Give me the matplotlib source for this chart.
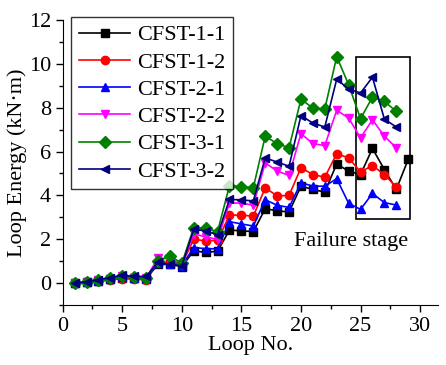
import matplotlib.pyplot as plt
from matplotlib.patches import Rectangle
from matplotlib.ticker import MultipleLocator

plt.rcParams['font.family'] = ['Liberation Serif', 'DejaVu Serif']

loops = list(range(1, 30))

cfst_1_1 = [0.0, 0.05, 0.1, 0.18, 0.25, 0.22, 0.2, 0.85, 0.85, 0.75,
            1.47, 1.4, 1.45, 2.42, 2.38, 2.35, 3.39, 3.3, 3.24, 4.42,
            4.27, 4.15, 5.44, 5.1, 4.95, 6.14, 5.18, 4.27, 5.64]
cfst_1_2 = [0.0, 0.03, 0.08, 0.15, 0.2, 0.18, 0.15, 0.95, 0.95, 0.85,
            2.0, 1.92, 1.95, 3.1, 3.1, 3.05, 4.35, 3.97, 4.0, 5.26,
            4.95, 4.83, 5.9, 5.71, 5.07, 5.36, 4.95, 4.38]
cfst_2_1 = [0.0, 0.05, 0.1, 0.2, 0.28, 0.25, 0.25, 0.9, 0.85, 0.8,
            1.62, 1.57, 1.56, 2.8, 2.7, 2.6, 3.8, 3.55, 3.45, 4.58,
            4.42, 4.42, 4.76, 3.64, 3.36, 4.09, 3.67, 3.56]
cfst_2_2 = [0.02, 0.05, 0.12, 0.2, 0.3, 0.25, 0.22, 1.15, 1.1, 0.85,
            2.25, 2.1, 2.0, 3.65, 3.65, 3.55, 5.48, 5.11, 4.91, 6.82,
            6.36, 6.27, 7.88, 7.53, 6.62, 7.45, 6.7, 6.17]
cfst_3_1 = [0.02, 0.05, 0.12, 0.22, 0.3, 0.28, 0.25, 1.0, 1.24, 0.9,
            2.53, 2.5, 2.35, 4.45, 4.4, 4.35, 6.7, 6.36, 6.17, 8.39,
            7.98, 7.94, 10.33, 9.05, 7.5, 8.48, 8.29, 7.83]
cfst_3_2 = [0.0, 0.05, 0.15, 0.25, 0.35, 0.3, 0.3, 0.95, 0.85, 0.79,
            2.45, 2.38, 2.2, 3.82, 3.79, 3.75, 5.71, 5.52, 5.33, 7.64,
            7.3, 7.12, 9.3, 8.85, 8.67, 9.39, 7.48, 7.12]

fig = plt.figure(figsize=(4.46, 3.65), dpi=100)
ax = fig.add_axes([0.1406, 0.1644, 0.8414, 0.7808])

series = [
    (cfst_1_1, 'CFST-1-1', 'black', 's'),
    (cfst_1_2, 'CFST-1-2', 'red', 'o'),
    (cfst_2_1, 'CFST-2-1', 'blue', '^'),
    (cfst_2_2, 'CFST-2-2', 'magenta', 'v'),
    (cfst_3_1, 'CFST-3-1', 'green', 'D'),
    (cfst_3_2, 'CFST-3-2', 'navy', '<'),
]
for vals, name, col, mk in series:
    ax.plot(loops[:len(vals)], vals, color=col, marker=mk, markersize=6,
            lw=1.2, label=name)

ax.set_xlim(0, 31.5)
ax.set_ylim(-1, 12)
ax.xaxis.set_major_locator(MultipleLocator(5))
ax.xaxis.set_minor_locator(MultipleLocator(2.5))
ax.yaxis.set_major_locator(MultipleLocator(2))
ax.yaxis.set_minor_locator(MultipleLocator(1))
ax.tick_params(which='major', direction='out', length=5, width=1, labelsize=16)
ax.tick_params(which='minor', direction='out', length=3, width=1)
ax.spines['top'].set_visible(False)
ax.spines['right'].set_visible(False)

ax.set_xlabel('Loop No.', fontsize=16, labelpad=0)
ax.set_ylabel('Loop Energy (kN·m)', fontsize=16, labelpad=1)

leg = ax.legend(loc='upper left', bbox_to_anchor=(0.023, 1.01), fontsize=16,
                frameon=True, fancybox=False, edgecolor='black',
                handlelength=2.3, handletextpad=0.3, labelspacing=0.3,
                borderpad=0.35, borderaxespad=0)
leg.get_frame().set_linewidth(1)

# failure stage box
ax.add_patch(Rectangle((24.58, 2.9), 4.61, 7.4, fill=False,
                       edgecolor='black', lw=1.2))
ax.text(24.2, 1.9, 'Failure stage', fontsize=16, ha='center', va='center')

fig.savefig('out.png', dpi=100)
